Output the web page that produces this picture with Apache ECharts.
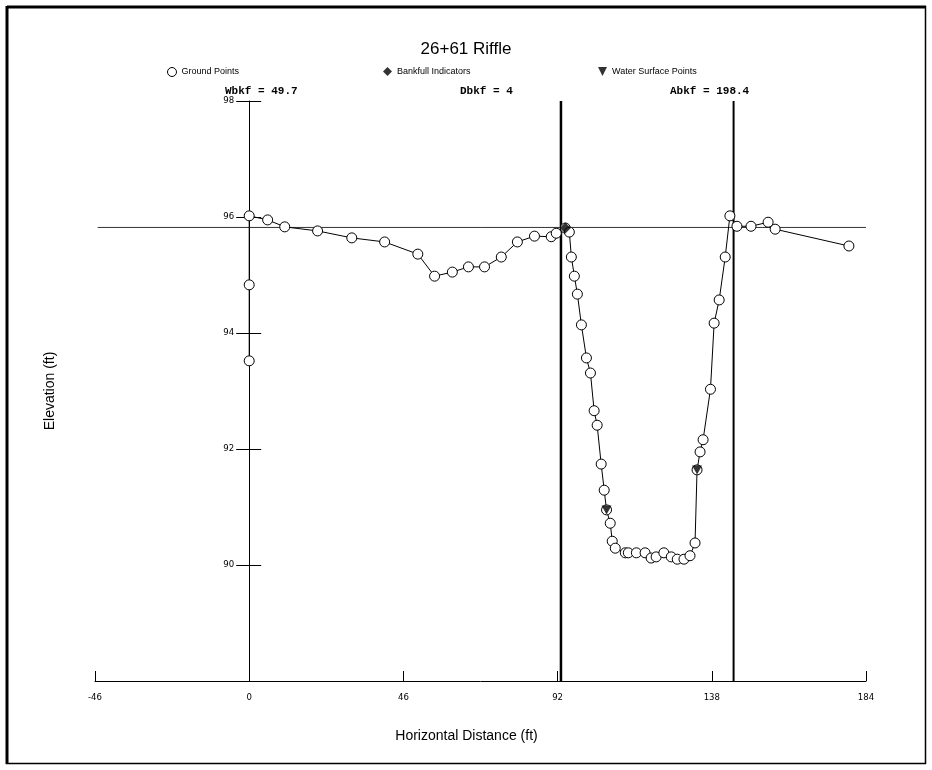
<!DOCTYPE html>
<html>
<head>
<meta charset="utf-8">
<script src="https://cdn.jsdelivr.net/npm/echarts@6/dist/echarts.min.js"></script>
<style>html,body{margin:0;padding:0;background:#fff;}#c{width:932px;height:770px;}</style>
</head>
<body>
<div id="c"></div>
<script>
// ---- data ----
const groundX = [0, 0, 0, 5.5, 10.6, 20.4, 30.6, 40.4, 50.3, 55.3, 60.6, 65.4, 70.2, 75.2, 80.0, 85.1, 90.1, 91.6, 94.3, 95.5, 96.1, 97.0, 97.9, 99.1, 100.6, 101.8, 102.9, 103.8, 105.0, 105.9, 106.6, 107.7, 108.3, 109.2, 112.2, 113.1, 115.5, 118.1, 119.9, 121.4, 123.7, 125.9, 127.7, 129.7, 131.5, 133.0, 133.6, 134.5, 135.4, 137.6, 138.7, 140.2, 142.0, 143.4, 145.5, 149.7, 154.8, 156.9, 178.9];
const groundY = [93.52, 94.83, 96.02, 95.95, 95.83, 95.76, 95.64, 95.57, 95.36, 94.98, 95.05, 95.14, 95.14, 95.31, 95.57, 95.67, 95.66, 95.72, 95.81, 95.74, 95.31, 94.98, 94.67, 94.14, 93.57, 93.31, 92.66, 92.41, 91.74, 91.29, 90.95, 90.72, 90.41, 90.29, 90.21, 90.21, 90.21, 90.21, 90.12, 90.14, 90.21, 90.14, 90.10, 90.10, 90.16, 90.38, 91.64, 91.95, 92.16, 93.03, 94.17, 94.57, 95.31, 96.02, 95.84, 95.84, 95.91, 95.79, 95.50];
const bankfullX = [94.3];
const bankfullY = [95.81];
const waterX = [106.6, 133.6];
const waterY = [90.95, 91.64];
const bankfullElev = 95.82;
const bankLeftX = 93.0;
const bankRightX = 144.5;
const xTicks = [-46, 0, 46, 92, 138, 184];
const yTicks = [88, 90, 92, 94, 96, 98];
const titleText = '26+61 Riffle';
const statLabels = ['Wbkf = 49.7', 'Dbkf = 4', 'Abkf = 198.4'];
const legendNames = ['Ground Points', 'Bankfull Indicators', 'Water Surface Points'];

const zip = (a, b) => a.map((v, i) => [v, b[i]]);
const xMin = xTicks[0], xMax = xTicks[xTicks.length - 1];
const yMin = yTicks[0], yMax = yTicks[yTicks.length - 1];

// layout of the plot area (pixels)
const W = 932, H = 770;
const gLeft = 95, gRight = 66, gTop = 101, gBottom = 89;
// the elevation axis stands at horizontal distance 0
const zeroPx = gLeft + (0 - xMin) / (xMax - xMin) * (W - gLeft - gRight);

const tickFont = { fontFamily: 'Liberation Sans Narrow, DejaVu Sans Condensed, Arial', fontSize: 9.5, color: '#000' };
const legendText = { fontFamily: 'Liberation Sans, Arial', fontSize: 9, color: '#000' };
const downTri = 'path://M0,0L2,0L1,2Z';

const chart = echarts.init(document.getElementById('c'), null, { renderer: 'canvas' });
chart.setOption({
  backgroundColor: '#fff',
  animation: false,
  title: [
    { text: titleText, left: 'center', top: 36, textStyle: { fontFamily: 'Liberation Sans, Arial', fontSize: 17, fontWeight: 'normal', color: '#000' } },
    { text: statLabels[0], left: 220, top: 81, textStyle: { fontFamily: 'Liberation Mono, DejaVu Sans Mono', fontSize: 11, fontWeight: 'bold', color: '#000' } },
    { text: statLabels[1], left: 455, top: 81, textStyle: { fontFamily: 'Liberation Mono, DejaVu Sans Mono', fontSize: 11, fontWeight: 'bold', color: '#000' } },
    { text: statLabels[2], left: 665, top: 81, textStyle: { fontFamily: 'Liberation Mono, DejaVu Sans Mono', fontSize: 11, fontWeight: 'bold', color: '#000' } }
  ],
  legend: [
    { left: 162, top: 62, itemWidth: 9, itemHeight: 9, textStyle: legendText,
      data: [{ name: legendNames[0], icon: 'circle', itemStyle: { color: '#fff', borderColor: '#000', borderWidth: 1 } }] },
    { left: 378, top: 62, itemWidth: 9, itemHeight: 9, textStyle: legendText,
      data: [{ name: legendNames[1], icon: 'diamond', itemStyle: { color: '#000' } }] },
    { left: 593, top: 62, itemWidth: 9, itemHeight: 9, textStyle: legendText,
      data: [{ name: legendNames[2], icon: downTri, itemStyle: { color: '#000' } }] }
  ],
  graphic: [
    { type: 'line', shape: { x1: 7, y1: 7, x2: 926, y2: 7 }, style: { stroke: '#000', lineWidth: 3 } },
    { type: 'line', shape: { x1: 7, y1: 6, x2: 7, y2: 764 }, style: { stroke: '#000', lineWidth: 3 } },
    { type: 'line', shape: { x1: 925.5, y1: 6, x2: 925.5, y2: 764 }, style: { stroke: '#000', lineWidth: 1.5 } },
    { type: 'line', shape: { x1: 6, y1: 763.5, x2: 926, y2: 763.5 }, style: { stroke: '#000', lineWidth: 1.5 } }
  ],
  grid: [
    { left: gLeft, right: gRight, top: gTop, bottom: gBottom, containLabel: false, outerBoundsMode: 'none' },
    { left: zeroPx, width: 1, top: gTop, bottom: gBottom, containLabel: false, outerBoundsMode: 'none' }
  ],
  xAxis: [{
    gridIndex: 0, type: 'value', min: xMin, max: xMax, interval: 46,
    name: 'Horizontal Distance (ft)', nameLocation: 'middle', nameGap: 48,
    nameTextStyle: { fontFamily: 'Liberation Sans, Arial', fontSize: 14, color: '#000', padding: [0, 28, 0, 0] },
    axisLine: { show: true, onZero: false, lineStyle: { color: '#000', width: 1 } },
    axisTick: { show: true, inside: true, length: 10, lineStyle: { color: '#000' } },
    axisLabel: Object.assign({ margin: 12 }, tickFont),
    splitLine: { show: false }
  }, {
    gridIndex: 1, type: 'value', min: 0, max: 1, show: false
  }],
  yAxis: [{
    gridIndex: 0, type: 'value', min: yMin, max: yMax, interval: 2, position: 'left',
    name: 'Elevation (ft)', nameLocation: 'middle', nameGap: 38,
    nameTextStyle: { fontFamily: 'Liberation Sans, Arial', fontSize: 14, color: '#000' },
    axisLine: { show: false }, axisTick: { show: false }, axisLabel: { show: false }, splitLine: { show: false }
  }, {
    gridIndex: 1, type: 'value', min: yMin, max: yMax, interval: 2, position: 'left',
    axisLine: { show: true, onZero: false, lineStyle: { color: '#000', width: 1 } },
    axisTick: { show: true, inside: false, length: 13, lineStyle: { color: '#000' } },
    axisLabel: Object.assign({ margin: 15, formatter: v => (v === yMin ? '' : String(v)) }, tickFont),
    splitLine: { show: false }
  }, {
    gridIndex: 1, type: 'value', min: yMin, max: yMax, interval: 2, position: 'left',
    axisLine: { show: false, onZero: false },
    axisTick: { show: true, inside: true, length: 12, lineStyle: { color: '#000' } },
    axisLabel: { show: false },
    splitLine: { show: false }
  }],
  series: [
    { type: 'line', name: 'bankLeft', data: [[bankLeftX, yMin], [bankLeftX, yMax]], symbol: 'none', lineStyle: { color: '#000', width: 2.5 }, z: 1, silent: true },
    { type: 'line', name: 'bankRight', data: [[bankRightX, yMin], [bankRightX, yMax]], symbol: 'none', lineStyle: { color: '#000', width: 2 }, z: 1, silent: true },
    { type: 'line', name: 'bankElev', data: [[xMin + 0.8, bankfullElev], [xMax, bankfullElev]], symbol: 'none', lineStyle: { color: '#333', width: 1 }, z: 1, silent: true },
    { type: 'line', name: legendNames[0], data: zip(groundX, groundY), symbol: 'circle', symbolSize: 10, showAllSymbol: true,
      itemStyle: { color: '#fff', borderColor: '#000', borderWidth: 1 }, lineStyle: { color: '#000', width: 1 }, z: 3 },
    { type: 'scatter', name: legendNames[1], data: zip(bankfullX, bankfullY), symbol: 'diamond', symbolSize: 11, itemStyle: { color: '#000' }, z: 4 },
    { type: 'scatter', name: legendNames[2], data: zip(waterX, waterY), symbol: downTri, symbolSize: [10, 9], itemStyle: { color: '#000' }, z: 4 }
  ]
});
</script>
</body>
</html>
